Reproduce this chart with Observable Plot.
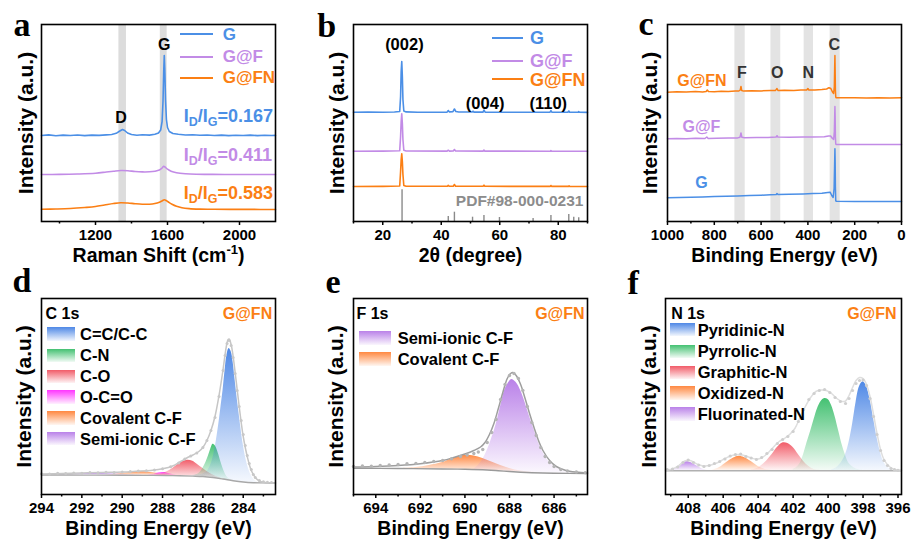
<!DOCTYPE html>
<html><head><meta charset="utf-8">
<script src="https://cdn.jsdelivr.net/npm/d3@7"></script>
<script src="https://cdn.jsdelivr.net/npm/@observablehq/plot@0.6"></script>
<style>
body{margin:0;background:#fff;}
#fig{position:relative;width:912px;height:546px;overflow:hidden;background:#fff;font-family:"Liberation Sans",Arial,sans-serif;font-weight:bold;}
#fig svg.plot, #fig svg{position:absolute;}
.lab{position:absolute;white-space:nowrap;}
.sw{position:absolute;}
.ln{position:absolute;height:2px;}
</style></head><body>
<svg width="0" height="0" style="position:absolute;left:0;top:0"><defs id="grads"></defs></svg>
<div id="fig"></div>
<script>
// ---------------- DATA ----------------
// (a) Raman: [shift, intensity]
const ramanG = [[900,86],[940,86.6],[980,85.8],[1020,86.4],[1060,86],[1100,86.5],[1140,85.9],[1180,86.4],[1220,86.1],[1260,86.6],[1290,87],[1315,88.2],[1335,90.5],[1350,92],[1362,91],[1378,88.5],[1400,87],[1430,86.3],[1460,86.7],[1500,86.4],[1530,87.2],[1550,88.5],[1562,91.5],[1570,100],[1575,120],[1579,150],[1582,166],[1585,152],[1589,122],[1594,102],[1600,94],[1610,90],[1630,88],[1660,87.2],[1700,86.5],[1740,86.8],[1780,86.2],[1820,86.5],[1860,86],[1900,86.4],[1940,85.9],[1980,86.3],[2020,86],[2060,86.4],[2100,85.9],[2140,86.2],[2180,86],[2200,86.1]];
const ramanGF = [[900,47],[1000,47.1],[1100,47.5],[1200,48.3],[1260,49.5],[1300,50.3],[1340,51],[1380,50.8],[1420,50],[1460,49.6],[1500,49.7],[1530,50.3],[1555,51.5],[1570,53.5],[1578,55.3],[1586,54.5],[1600,52.3],[1620,50.3],[1650,48.8],[1700,47.8],[1760,47.3],[1850,47.1],[1950,47],[2050,47],[2200,47]];
const ramanGFN = [[900,12.2],[980,12.5],[1060,13],[1140,14],[1200,15],[1250,16.5],[1300,18],[1340,18.8],[1380,18.5],[1420,17.8],[1460,17.3],[1500,17.3],[1530,18],[1555,19.3],[1572,20.8],[1582,21.8],[1592,21],[1605,19.5],[1625,17.3],[1650,15.3],[1680,13.8],[1720,12.9],[1780,12.4],[1860,12.2],[1950,12.1],[2050,12.1],[2200,12]];
const ramanBands = [[1330,1372],[1560,1598]];
const ramanRatios = ["ID/IG=0.167","ID/IG=0.411","ID/IG=0.583"];
const sampleNames = ["G","G@F","G@FN"];

// (b) XRD: [2theta, intensity]
const xrdG = [[10,109.2],[15,109.4],[20,109.2],[24,109.5],[25.8,110],[26.1,125],[26.3,150],[26.5,160],[26.7,145],[26.9,122],[27.2,110.5],[28,109.6],[32,109.3],[38,109.3],[42,109.4],[42.4,111],[42.8,109.6],[44,109.8],[44.5,112.5],[45,110],[46,109.5],[50.6,109.5],[50.9,110.3],[51.2,109.4],[54.3,109.4],[54.6,111.5],[55,109.4],[60,109.3],[65,109.2],[70,109.3],[77.2,109.3],[77.5,110.8],[77.8,109.3],[83.3,109.2],[83.6,110.5],[83.9,109.2],[86.8,109.2],[87,109.9],[87.2,109.2],[90,109.1]];
const xrdGF = [[10,70.3],[20,70.4],[25.8,70.8],[26.1,85],[26.3,100],[26.5,107.7],[26.7,98],[26.9,82],[27.2,71.2],[28,70.5],[42,70.4],[42.4,71.3],[42.8,70.4],[44.1,70.5],[44.5,72],[44.9,70.5],[54.3,70.4],[54.6,71.4],[54.9,70.4],[77.3,70.3],[77.5,71],[77.7,70.3],[90,70.2]];
const xrdGFN = [[10,35],[20,35.1],[25.8,35.5],[26.1,50],[26.3,62],[26.5,67.7],[26.7,60],[26.9,47],[27.2,36],[28,35.2],[42.1,35.2],[42.4,36.2],[42.7,35.2],[44.1,35.3],[44.5,37],[44.9,35.3],[54.3,35.2],[54.6,36.3],[54.9,35.2],[77.3,35.1],[77.5,36],[77.7,35.1],[83.5,35.1],[83.7,35.7],[83.9,35.1],[90,35]];
const pdfSticks = [[26.6,31.7],[42.4,5],[44.5,9.3],[50.7,4.3],[54.6,6],[59.9,4],[71.4,3],[77.5,6],[83.6,7],[85.3,4.3],[87.0,3.7]];
const xrdPlanes = ["(002)","(004)","(110)"];

// (c) XPS survey: [binding energy, intensity]
const surveyGFN = [[1000,129.3],[960,129.8],[920,129.4],[880,129.9],[850,129.6],[835,130],[830,131.5],[825,130],[800,129.8],[770,130.3],[740,130],[710,130.4],[695,130.5],[689,131.5],[686,135],[683,131],[675,130.4],[640,130.8],[600,130.6],[560,131],[540,130.9],[535,132],[532,133],[528,131],[500,131.2],[460,131],[430,131.4],[405,131.5],[400,133],[396,131.5],[370,131.6],[340,131.9],[320,132.5],[310,133.8],[302,133],[295,129.5],[290,128],[287,135],[285.5,155],[284.5,166],[283.5,150],[282.5,132],[281,124.5],[279,123.7],[250,123.7],[200,123.8],[150,123.6],[100,123.8],[50,123.6],[0,123.7]];
const surveyGF = [[1000,82.7],[960,83],[920,82.8],[880,83.2],[840,83],[832,84.5],[826,83],[790,83.3],[740,83.4],[700,83.6],[690,84.3],[686,88.5],[682,84.2],[670,83.8],[620,84],[570,84],[536,84.5],[532,85.8],[528,84.4],[480,84.3],[420,84.4],[380,84.5],[330,84.8],[312,85.6],[303,85.5],[295,83],[290,82],[287,90],[285.5,105],[284.5,115],[283.5,104],[282.5,85],[281,77.5],[279,77],[200,77],[100,77.1],[0,77]];
const surveyG = [[1000,23.7],[950,24],[900,24.3],[850,24.6],[800,25],[750,25.3],[700,25.6],[650,26],[600,26.3],[560,26.7],[535,27],[532,28],[528,27],[480,27.3],[420,27.6],[380,27.9],[340,28.2],[315,29],[305,29.3],[298,26],[292,24],[288,33],[286,55],[284.5,72.7],[283.5,60],[282.5,35],[281,21],[279,20.2],[200,20],[100,20.1],[0,20]];
const surveyBands = [[712,668],[558,516],[416,376],[305,262]];
const surveyElements = ["F","O","N","C"];

// (d) C 1s: components [eV, background, component]
const c1sBg = [[294,19.5],[292,19.4],[290,19.3],[288.5,19.1],[287.5,18.9],[286.5,18.4],[286,18],[285.5,17],[285,15.5],[284.5,13.8],[284,12.5],[283.5,11.8],[283,11.6],[282.4,11.5]];
const c1sSemi = [[293.8,19.5,19.6],[293,19.4,20],[292.3,19.4,20.6],[291.6,19.4,21],[291,19.3,21],[290.4,19.3,20.6],[289.8,19.2,20],[289.2,19.2,19.4],[288.8,19.1,19.15]];
const c1sCov = [[290.8,19.3,19.4],[290.3,19.3,20.3],[289.8,19.2,21.5],[289.4,19.2,22.4],[289.1,19.2,22.7],[288.8,19.1,22.4],[288.4,19.1,21.4],[288,19,20.2],[287.6,18.9,19.3],[287.3,18.9,18.95]];
const c1sOCO = [[288.7,19.1,19.15],[288.4,19.1,20.2],[288.2,19,21.4],[288,19,22],[287.8,19,21.6],[287.6,18.9,20.5],[287.4,18.9,19.5],[287.2,18.8,18.9]];
const c1sCO = [[288.4,19.1,19.2],[288.1,19,20.3],[287.8,19,22.5],[287.5,18.9,26],[287.2,18.8,30.5],[286.95,18.7,33.3],[286.75,18.6,34.3],[286.5,18.4,33.3],[286.3,18.2,30.5],[286,18,26],[285.7,17.4,21.8],[285.4,16.8,18.6],[285.1,15.8,16.2],[284.9,15.1,15.2]];
const c1sCN = [[286.5,18.4,18.6],[286.2,18.1,21],[286,18,26],[285.85,17.7,32],[285.7,17.4,40],[285.6,17.2,46],[285.5,17,50.3],[285.4,16.8,49],[285.3,16.4,45],[285.2,16.1,39],[285.1,15.8,32],[285,15.5,26],[284.9,15.1,21],[284.8,14.8,17.5],[284.6,14.1,14.6]];
const c1sCC = [[286.6,18.5,18.7],[286.3,18.2,19.4],[286,18,20.5],[285.8,17.6,23],[285.6,17.2,30],[285.4,16.8,46],[285.2,16.1,72],[285.1,15.8,88],[285,15.5,104],[284.9,15.1,124],[284.8,14.6,140],[284.7,14.2,146],[284.6,13.9,143],[284.5,13.8,132],[284.4,13.4,114],[284.3,13.1,96],[284.2,12.9,80],[284.1,12.7,64],[284,12.5,50],[283.8,12.2,30],[283.6,12,19],[283.4,11.8,13.5],[283.2,11.7,11.9]];
const c1sFit = [[294,20.5],[293,21],[292,21.5],[291,22],[290,22.4],[289.3,23.2],[288.5,24.3],[288,25.7],[287.5,28.5],[287.1,33],[286.8,36.5],[286.5,39.5],[286.2,43],[286,47],[285.8,54],[285.6,64],[285.4,78],[285.2,99],[285,125],[284.9,140],[284.8,152],[284.75,155],[284.7,155.5],[284.6,150],[284.5,138],[284.4,122],[284.3,105],[284.2,88],[284.1,72],[284,58],[283.8,38],[283.6,24],[283.4,17],[283.2,13.5],[283,12.2],[282.7,11.7],[282.4,11.6]];
const c1sRaw = [[294,20.8],[293.6,20.5],[293.2,21.2],[292.8,21],[292.4,21.6],[292,21.3],[291.6,22],[291.2,21.7],[290.8,22.3],[290.4,22],[290,22.6],[289.6,23],[289.2,23.4],[288.8,23.8],[288.4,24.6],[288,25.8],[287.6,27.8],[287.2,31.5],[286.9,35.5],[286.6,38.5],[286.3,41.5],[286,47],[285.8,54],[285.6,64],[285.4,77],[285.2,98],[285,124],[284.9,139],[284.8,151],[284.7,154],[284.6,149],[284.5,137],[284.4,121],[284.3,104],[284.2,88],[284.1,74],[284,60],[283.9,49],[283.8,39],[283.7,31],[283.6,25],[283.5,20],[283.4,17],[283.2,14],[283,12.8],[282.8,12.3],[282.6,12]];
const c1sNames = ["C=C/C-C","C-N","C-O","O-C=O","Covalent C-F","Semi-ionic C-F"];

// (e) F 1s
const f1sBg = [[695,26.2],[693,26],[691,25.5],[690,25.2],[689,24.5],[688.5,23.8],[688,23],[687.5,22.3],[687,21.8],[686,21.3],[684.5,21]];
const f1sCov = [[692.8,25.9,26.1],[692.2,25.8,27],[691.6,25.6,29],[691,25.5,32],[690.6,25.3,35.5],[690.2,25.2,38.5],[689.9,25,39.3],[689.6,24.9,38.5],[689.2,24.6,36],[688.8,24.1,32.5],[688.4,23.6,29],[688,23,26],[687.5,22.3,23.5],[687,21.8,22.2],[686.5,21.5,21.6]];
const f1sSemi = [[689.6,24.9,25.2],[689.4,24.7,29],[689.2,24.6,35],[689,24.4,44],[688.8,24.1,56],[688.6,23.8,70],[688.4,23.6,88],[688.2,23.3,105],[688,23,113],[687.9,22.9,115],[687.7,22.6,112],[687.5,22.3,104],[687.3,22.1,92],[687.1,21.9,78],[686.9,21.8,65],[686.7,21.6,52],[686.5,21.5,42],[686.2,21.4,32],[685.9,21.3,26.5],[685.5,21.2,23],[685,21.1,21.6],[684.5,21,21.2]];
const f1sFit = [[695,27.5],[694,28],[693,29],[692,30.8],[691,34],[690.5,37],[690,40.5],[689.6,44],[689.3,47.5],[689.1,52],[688.9,60],[688.7,71],[688.5,86],[688.3,102],[688.1,116],[687.95,121],[687.85,122],[687.7,119],[687.5,110],[687.3,96],[687.1,81],[686.9,67],[686.7,54],[686.5,44],[686.2,34],[685.9,28],[685.5,24.3],[685,22.4],[684.5,21.6]];
const f1sRaw = [[695,28],[694.6,28.5],[694.2,28.3],[693.8,29],[693.4,29.6],[693,30],[692.6,30.8],[692.2,31],[691.8,32],[691.4,33],[691,34],[690.6,35.8],[690.2,38],[689.9,39.5],[689.6,41],[689.4,42.5],[689.2,45],[689.0,52],[688.8,62],[688.6,75],[688.4,95],[688.2,110],[688.0,119],[687.8,121],[687.6,116],[687.4,104],[687.2,88],[687.0,72],[686.8,59],[686.6,47],[686.4,38],[686.2,32],[686.0,28],[685.7,25],[685.4,23.5],[685,22.5],[684.6,21.8]];
const f1sNames = ["Semi-ionic C-F","Covalent C-F"];

// (f) N 1s
const n1sBg = [[409.3,23.7],[395.8,23.7]];
const n1sFluor = [[409,23.7,24],[408.7,23.7,26.5],[408.4,23.7,30.5],[408.1,23.7,32.7],[407.8,23.7,31.5],[407.5,23.7,28.5],[407.2,23.7,25.5],[406.9,23.7,24]];
const n1sOxid = [[406.6,23.7,24.2],[406.2,23.7,27],[405.8,23.7,32],[405.4,23.7,36.5],[405.1,23.7,38.3],[404.8,23.7,37],[404.4,23.7,33],[404,23.7,28],[403.6,23.7,25],[403.2,23.7,24]];
const n1sGraph = [[404.4,23.7,24.2],[404,23.7,26.5],[403.6,23.7,32],[403.2,23.7,40],[402.9,23.7,47],[402.6,23.7,51.5],[402.3,23.7,51],[402,23.7,47],[401.7,23.7,40],[401.4,23.7,33],[401.1,23.7,28],[400.8,23.7,25],[400.4,23.7,24]];
const n1sPyrr = [[402,23.7,25],[401.8,23.7,27],[401.6,23.7,31],[401.4,23.7,40],[401.2,23.7,52],[401,23.7,63],[400.8,23.7,75],[400.6,23.7,86],[400.4,23.7,93],[400.2,23.7,96],[400,23.7,95],[399.8,23.7,89],[399.6,23.7,78],[399.4,23.7,64],[399.2,23.7,50],[399,23.7,39],[398.8,23.7,31],[398.5,23.7,26.5],[398.2,23.7,24.5],[397.9,23.7,23.9]];
const n1sPyri = [[399.8,23.7,24.5],[399.5,23.7,27],[399.2,23.7,33],[399,23.7,40],[398.8,23.7,52],[398.6,23.7,70],[398.4,23.7,92],[398.2,23.7,108],[398,23.7,112.7],[397.8,23.7,108],[397.6,23.7,95],[397.4,23.7,76],[397.2,23.7,57],[397,23.7,42],[396.8,23.7,32],[396.5,23.7,26],[396.2,23.7,24.2]];
const n1sFit = [[409.3,24.5],[409,25],[408.6,28],[408.2,33.5],[407.9,34],[407.5,30.5],[407.1,28.5],[406.7,29.5],[406.3,32],[405.9,36],[405.5,39],[405.1,40],[404.7,38.5],[404.3,36],[404,35.5],[403.6,39],[403.2,46],[402.8,53],[402.5,56],[402.2,60],[401.9,66],[401.6,77],[401.3,88],[401,97],[400.7,103],[400.4,104.5],[400.1,104],[399.8,101],[399.5,96],[399.2,93],[399,93.5],[398.8,99],[398.6,107],[398.4,114],[398.2,117],[398,116],[397.8,110],[397.6,98],[397.4,80],[397.2,61],[397,45],[396.8,35],[396.5,28],[396.2,25],[395.8,24.2]];
const n1sRaw = [[409.2,24.8],[408.9,25.5],[408.6,27.5],[408.3,32],[408,34.5],[407.7,32],[407.4,29.5],[407.1,28],[406.8,29],[406.5,31],[406.2,33],[405.9,35.5],[405.6,38.5],[405.3,40],[405,40.5],[404.7,38],[404.4,36.5],[404.1,35],[403.8,37],[403.5,41],[403.2,45],[402.9,51],[402.6,55],[402.3,58],[402,63],[401.7,73],[401.4,85],[401.1,95],[400.8,101],[400.5,104],[400.2,105],[399.9,102],[399.6,97],[399.3,93],[399,91],[398.8,96],[398.6,104],[398.4,111],[398.2,114],[398,114.5],[397.8,109],[397.6,96],[397.4,78],[397.2,60],[397,44],[396.8,34],[396.6,29],[396.4,26],[396.2,24.8],[396,24.2]];
const n1sNames = ["Pyridinic-N","Pyrrolic-N","Graphitic-N","Oxidized-N","Fluorinated-N"];

// ---------------- STYLE ----------------
const FONT = '"Liberation Sans", Arial, Helvetica, sans-serif';
const SERIF = '"Liberation Serif", "Times New Roman", serif';
const C_BLUE = "#4b8fe6", C_PURPLE = "#c28be6", C_ORANGE = "#fb7f14";
const sampleColors = [C_BLUE, C_PURPLE, C_ORANGE];
const GRAD = {blue:"#3b7be3", green:"#2fba62", red:"#f04a58", magenta:"#ff1fff", orange:"#ff7b2c", purple:"#b273e6"};

const defs = d3.select("#grads");
for (const [k, c] of Object.entries(GRAD)) {
  const g = defs.append("linearGradient").attr("id", "grad-" + k)
    .attr("x1", 0).attr("y1", 0).attr("x2", 0).attr("y2", 1);
  g.append("stop").attr("offset", "0").attr("stop-color", c).attr("stop-opacity", 0.9);
  g.append("stop").attr("offset", "1").attr("stop-color", c).attr("stop-opacity", 0.05);
}

const fig = document.getElementById("fig");
const X = d => d[0], Y = d => d[1], Y1 = d => d[1], Y2 = d => d[2];

function panel(cfg) {
  const svg = Plot.plot({
    width: 304, height: 273,
    marginLeft: cfg.mL, marginRight: cfg.mR, marginTop: cfg.mT, marginBottom: cfg.mB,
    x: {domain: cfg.xd}, y: {domain: [0, cfg.yH], axis: null},
    style: {fontFamily: FONT, fontWeight: "bold", fontSize: "15px", overflow: "visible", background: "transparent", color: "black"},
    marks: [
      ...cfg.marks,
      Plot.axisX({ticks: cfg.minor, tickSize: 2.5, fill: "none", tickFormat: () => "", strokeWidth: 1.5, label: null}),
      Plot.axisX({ticks: cfg.major, tickSize: 4, tickPadding: 4, fontSize: 15, fontWeight: "bold", strokeWidth: 1.5, tickFormat: d => String(d), label: null}),
      Plot.frame({stroke: "black", strokeWidth: 1.6}),
      Plot.text([cfg.xlabel], {frameAnchor: "bottom", dy: cfg.xlDy, fontSize: 19.5, fontWeight: "bold", textAnchor: "middle", lineAnchor: "bottom"}),
      Plot.text(["Intensity (a.u.)"], {frameAnchor: "left", dx: cfg.ylDx, rotate: -90, fontSize: 21, fontWeight: "bold", textAnchor: "middle", lineAnchor: "middle"}),
      Plot.text([cfg.letter], {frameAnchor: "top-left", dx: cfg.letDx, dy: cfg.letDy, fontSize: 34, fontFamily: SERIF, fontWeight: "bold", textAnchor: "start", lineAnchor: "bottom"})
    ]
  });
  svg.style.left = cfg.left + "px";
  svg.style.top = cfg.top + "px";
  d3.select(svg).selectAll("text").each(function () {
    const t = this.textContent, s = d3.select(this);
    if (t === "Raman Shift (cm-1)") {
      s.text(null);
      s.append("tspan").text("Raman Shift (cm");
      s.append("tspan").attr("dy", -8).attr("font-size", 13).text("-1");
      s.append("tspan").attr("dy", 8).text(")");
    } else if (/^ID\/IG=/.test(t)) {
      s.text(null);
      s.append("tspan").text("I");
      s.append("tspan").attr("dy", 4).attr("font-size", 12.5).text("D");
      s.append("tspan").attr("dy", -4).text("/I");
      s.append("tspan").attr("dy", 4).attr("font-size", 12.5).text("G");
      s.append("tspan").attr("dy", -4).text(t.slice(5));
    }
  });
  fig.appendChild(svg);
  return svg;
}

function txt(str, x, baseline, size, color, anchor = "start", family = FONT) {
  const d = document.createElement("div");
  d.className = "lab";
  d.textContent = str;
  const k = family === FONT ? 0.8465 : 0.8375;
  Object.assign(d.style, {left: x + "px", top: (baseline - k * size) + "px", fontSize: size + "px", lineHeight: size + "px", color, fontFamily: family});
  if (anchor === "middle") d.style.transform = "translateX(-50%)";
  if (anchor === "end") d.style.transform = "translateX(-100%)";
  fig.appendChild(d);
}
function lineLegend(names, colors, x1, x2, tx, ys, size) {
  names.forEach((n, i) => {
    const l = document.createElement("div");
    l.className = "ln";
    Object.assign(l.style, {left: x1 + "px", width: (x2 - x1) + "px", top: (ys[i] - 1) + "px", background: colors[i]});
    fig.appendChild(l);
    txt(n, tx, ys[i] + 0.358 * size, size, colors[i]);
  });
}
function swatchLegend(names, colors, x, w, h, tx, ys, size) {
  names.forEach((n, i) => {
    const s = document.createElement("div");
    s.className = "sw";
    const c = colors[i];
    Object.assign(s.style, {left: x + "px", width: w + "px", top: (ys[i] - h / 2) + "px", height: h + "px",
      background: `linear-gradient(to bottom, ${c}e6, ${c}10)`});
    fig.appendChild(s);
    txt(n, tx, ys[i] + 0.358 * size, size, "#000");
  });
}

// ---------------- (a) Raman ----------------
panel({
  left: 0, top: 0, mL: 41, mR: 29, mT: 24, mB: 52, xd: [900, 2200], yH: 197,
  major: [1200, 1600, 2000], minor: [1000, 1400, 1800],
  xlabel: "Raman Shift (cm-1)", xlDy: 40, ylDx: -15.5, letter: "a", letDx: -28, letDy: 11,
  marks: [
    Plot.rect(ramanBands, {x1: d => d[0], x2: d => d[1], fill: "#dcdcdc"}),
    Plot.line(ramanG, {x: X, y: Y, stroke: C_BLUE, strokeWidth: 1.6}),
    Plot.line(ramanGF, {x: X, y: Y, stroke: C_PURPLE, strokeWidth: 1.6, curve: "catmull-rom"}),
    Plot.line(ramanGFN, {x: X, y: Y, stroke: C_ORANGE, strokeWidth: 1.6, curve: "catmull-rom"}),
    Plot.text(["G"], {x: 1582, y: 171.7, fontSize: 16, lineAnchor: "bottom"}),
    Plot.text(["D"], {x: 1342, y: 98.7, fontSize: 16, lineAnchor: "bottom"}),
    Plot.text([ramanRatios[0]], {x: 1690, y: 99.3, fill: C_BLUE, fontSize: 18, textAnchor: "start", lineAnchor: "bottom"}),
    Plot.text([ramanRatios[1]], {x: 1690, y: 61, fill: C_PURPLE, fontSize: 18, textAnchor: "start", lineAnchor: "bottom"}),
    Plot.text([ramanRatios[2]], {x: 1690, y: 23, fill: C_ORANGE, fontSize: 18, textAnchor: "start", lineAnchor: "bottom"})
  ]
});
lineLegend(sampleNames, sampleColors, 180, 213, 222.7, [34.3, 56.7, 77.7], 17);

// ---------------- (b) XRD ----------------
panel({
  left: 304, top: 0, mL: 49, mR: 21, mT: 24, mB: 52, xd: [10, 90], yH: 197,
  major: [20, 40, 60, 80], minor: [10, 30, 50, 70, 90],
  xlabel: "2θ (degree)", xlDy: 40, ylDx: -16, letter: "b", letDx: -36.3, letDy: 12,
  marks: [
    Plot.ruleX(pdfSticks, {x: X, y1: 0, y2: Y, stroke: "#8a8a8a", strokeWidth: 1.4}),
    Plot.line(xrdG, {x: X, y: Y, stroke: C_BLUE, strokeWidth: 1.6}),
    Plot.line(xrdGF, {x: X, y: Y, stroke: C_PURPLE, strokeWidth: 1.6}),
    Plot.line(xrdGFN, {x: X, y: Y, stroke: C_ORANGE, strokeWidth: 1.6}),
    Plot.text([xrdPlanes[0]], {x: 27.4, y: 172, fontSize: 16.5, lineAnchor: "bottom"}),
    Plot.text([xrdPlanes[1]], {x: 55, y: 112.7, fontSize: 16.5, lineAnchor: "bottom"}),
    Plot.text([xrdPlanes[2]], {x: 76.6, y: 113, fontSize: 16.5, lineAnchor: "bottom"}),
    Plot.text(["PDF#98-000-0231"], {x: 88.6, y: 16, fill: "#8c8c8c", fontSize: 15.5, textAnchor: "end", lineAnchor: "bottom"})
  ]
});
lineLegend(sampleNames, sampleColors, 491.7, 523.3, 530, [37.7, 61, 79.3], 18);

// ---------------- (c) XPS survey ----------------
panel({
  left: 608, top: 0, mL: 59, mR: 11, mT: 24, mB: 52, xd: [1000, 0], yH: 197,
  major: [1000, 800, 600, 400, 200, 0], minor: [900, 700, 500, 300, 100],
  xlabel: "Binding Energy (eV)", xlDy: 40, ylDx: -17, letter: "c", letDx: -29, letDy: 10,
  marks: [
    Plot.rect(surveyBands, {x1: d => d[0], x2: d => d[1], fill: "#e3e3e3"}),
    Plot.line(surveyG, {x: X, y: Y, stroke: C_BLUE, strokeWidth: 1.5}),
    Plot.line(surveyGF, {x: X, y: Y, stroke: C_PURPLE, strokeWidth: 1.5}),
    Plot.line(surveyGFN, {x: X, y: Y, stroke: C_ORANGE, strokeWidth: 1.5}),
    Plot.text([surveyElements[0]], {x: 682.5, y: 143.3, fill: "#333", fontSize: 16, lineAnchor: "bottom"}),
    Plot.text([surveyElements[1]], {x: 531, y: 143.3, fill: "#333", fontSize: 16, lineAnchor: "bottom"}),
    Plot.text([surveyElements[2]], {x: 398, y: 143.3, fill: "#333", fontSize: 16, lineAnchor: "bottom"}),
    Plot.text([surveyElements[3]], {x: 287.6, y: 171.7, fill: "#333", fontSize: 16, lineAnchor: "bottom"}),
    Plot.text([sampleNames[2]], {x: 853, y: 136, fill: C_ORANGE, fontSize: 16, lineAnchor: "bottom"}),
    Plot.text([sampleNames[1]], {x: 855, y: 90, fill: C_PURPLE, fontSize: 16, lineAnchor: "bottom"}),
    Plot.text([sampleNames[0]], {x: 855, y: 33.3, fill: C_BLUE, fontSize: 16, lineAnchor: "bottom"})
  ]
});

// ---------------- (d) C 1s ----------------
const cornerMarks = (core, dxL, dxR) => [
  Plot.text([core], {frameAnchor: "top-left", dx: dxL, dy: 20, fontSize: 16, textAnchor: "start", lineAnchor: "bottom"}),
  Plot.text([sampleNames[2]], {frameAnchor: "top-right", dx: dxR, dy: 20, fontSize: 16, fill: C_ORANGE, textAnchor: "end", lineAnchor: "bottom"})
];
const comp = (data, g) => Plot.areaY(data, {x: X, y1: Y1, y2: Y2, fill: `url(#grad-${g})`, curve: "catmull-rom"});

panel({
  left: 0, top: 273, mL: 41, mR: 29, mT: 25, mB: 52, xd: [294, 282.4], yH: 196,
  major: [294, 292, 290, 288, 286, 284], minor: [293, 291, 289, 287, 285, 283],
  xlabel: "Binding Energy (eV)", xlDy: 40, ylDx: -17, letter: "d", letDx: -29, letDy: -7,
  marks: [
    comp(c1sSemi, "purple"), comp(c1sCov, "orange"), comp(c1sOCO, "magenta"),
    comp(c1sCO, "red"), comp(c1sCN, "green"), comp(c1sCC, "blue"),
    Plot.line(c1sBg, {x: X, y: Y, stroke: "#a8a8a8", strokeWidth: 1.4, curve: "catmull-rom"}),
    Plot.line(c1sFit, {x: X, y: Y, stroke: "#c6c6c6", strokeWidth: 1.5, curve: "catmull-rom"}),
    Plot.dot(c1sRaw, {x: X, y: Y, r: 1.5, fill: "#c8c8c8"}),
    ...cornerMarks("C 1s", 4, -3.3)
  ]
});
swatchLegend(c1sNames, [GRAD.blue, GRAD.green, GRAD.red, GRAD.magenta, GRAD.orange, GRAD.purple], 46.7, 28.3, 13.5, 80, [334, 355.3, 376.3, 397, 418, 438.7], 16.5);

// ---------------- (e) F 1s ----------------
panel({
  left: 304, top: 273, mL: 49, mR: 21, mT: 25, mB: 52, xd: [695, 684.5], yH: 196,
  major: [694, 692, 690, 688, 686], minor: [695, 693, 691, 689, 687, 685],
  xlabel: "Binding Energy (eV)", xlDy: 40, ylDx: -17, letter: "e", letDx: -28, letDy: -6,
  marks: [
    comp(f1sCov, "orange"), comp(f1sSemi, "purple"),
    Plot.line(f1sBg, {x: X, y: Y, stroke: "#9a9a9a", strokeWidth: 1.4, curve: "catmull-rom"}),
    Plot.line(f1sFit, {x: X, y: Y, stroke: "#9e9e9e", strokeWidth: 1.5, curve: "catmull-rom"}),
    Plot.dot(f1sRaw, {x: X, y: Y, r: 1.7, fill: "#b4b4b4"}),
    ...cornerMarks("F 1s", 3, -3)
  ]
});
swatchLegend(f1sNames, [GRAD.purple, GRAD.orange], 359.3, 31.4, 14, 397.7, [338, 359], 16.5);

// ---------------- (f) N 1s ----------------
panel({
  left: 608, top: 273, mL: 57, mR: 11, mT: 25, mB: 52, xd: [409.3, 395.8], yH: 196,
  major: [408, 406, 404, 402, 400, 398, 396], minor: [409, 407, 405, 403, 401, 399, 397],
  xlabel: "Binding Energy (eV)", xlDy: 40, ylDx: -16, letter: "f", letDx: -38, letDy: -5,
  marks: [
    comp(n1sFluor, "purple"), comp(n1sOxid, "orange"), comp(n1sGraph, "red"),
    comp(n1sPyrr, "green"), comp(n1sPyri, "blue"),
    Plot.line(n1sBg, {x: X, y: Y, stroke: "#b0b0b0", strokeWidth: 1.4}),
    Plot.line(n1sFit, {x: X, y: Y, stroke: "#dedede", strokeWidth: 1.5, curve: "catmull-rom"}),
    Plot.dot(n1sRaw, {x: X, y: Y, r: 1.6, fill: "#cfcfcf"}),
    ...cornerMarks("N 1s", 5.7, -5)
  ]
});
swatchLegend(n1sNames, [GRAD.blue, GRAD.green, GRAD.red, GRAD.orange, GRAD.purple], 670, 25, 13.5, 697.7, [329.7, 351.3, 372.3, 393, 414], 16.5);
</script></body></html>
